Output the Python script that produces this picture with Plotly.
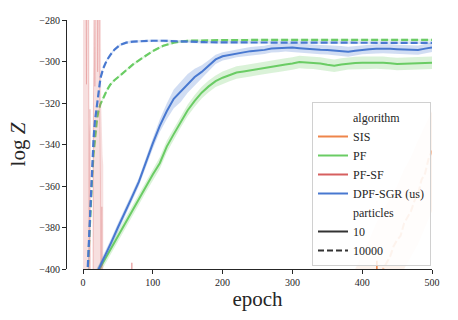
import plotly.graph_objects as go

# ---- data ----
epochs = list(range(0, 510, 10))

dpf_10 = [-416, -409, -401.5, -394.5, -387.5, -380, -373, -365.5, -358, -348.5,
          -339.5, -331, -324, -318, -314.5, -310.5, -307.5, -305, -302, -299,
          -297.5, -296.8, -296, -295.6, -295, -294.8, -294.4, -293.7, -293.6, -293.2,
          -293.3, -293.6, -293.9, -294.1, -294.3, -294.4, -294.6, -294.9, -295.3, -294.8,
          -294.3, -294.1, -293.9, -293.8, -293.9, -294.1, -294.2, -294.4, -294.5, -293.8,
          -293.2]
dpf_10_err = [2, 2, 2, 2, 2, 2, 2, 2, 2, 2.2,
              2.5, 3, 3.8, 4.5, 5, 4.5, 4, 3.2, 2.6, 2.2,
              2, 2, 2, 2, 2, 2, 2, 2, 2, 2,
              2.2, 2.2, 2.2, 2.2, 2.2, 2.2, 2.3, 2.4, 2.4, 2.3,
              2.2, 2.2, 2.2, 2.2, 2.2, 2.2, 2.2, 2.2, 2.2, 2.2,
              2.2]

pf_10 = [-414, -408, -402.5, -396.5, -390.5, -384.5, -378.5, -372.5, -366.5, -360.5,
         -354.5, -349, -341, -335, -329, -323.5, -319, -315, -312, -309.5,
         -307.8, -306.5, -305.3, -304.8, -304.2, -303.6, -303, -302.6, -302, -301.4,
         -301, -300.2, -300.5, -300.6, -301, -301.6, -302, -301.4, -300.9, -300.7,
         -300.6, -300.6, -300.5, -300.6, -300.9, -301.2, -301.1, -300.9, -300.9, -300.7,
         -300.6]
pf_10_err = [2.5] * 10 + [2.8] * 10 + [3] * 31

dash_epochs = [0, 4, 7, 9, 11, 13, 15, 17, 20, 22, 25, 29, 34, 39, 45, 53, 62, 72, 85, 100,
               115, 130, 150, 175, 200, 250, 300, 350, 400, 450, 500]
dpf_10000 = [-640, -460, -398, -381, -366, -350, -338, -329, -320, -314.5, -308, -303.3, -299.5,
             -296.9, -294.3, -292, -290.9, -290.4, -290.1, -290.0, -290.0, -290.2, -290.5,
             -290.7, -290.8, -290.9, -291.0, -291.0, -291.0, -291.0, -291.0]
pf_10000 = [-640, -460, -400, -384, -370, -356, -345, -337, -328, -324, -320.5, -317.7, -314,
            -311.2, -309, -306.8, -304, -301.3, -298.3, -295, -292.4, -290.9, -290, -289.8,
            -289.7, -289.6, -289.6, -289.6, -289.6, -289.6, -289.6]

pfsf_epochs = list(range(0, 31))
pfsf_10 = [-230, -210, -260, -200, -240, -311, -205, -250, -215, -700, -323, -780, -800, -800,
           -398, -323, -220, -312, -205, -240, -210, -305, -230, -215, -330, -357, -700, -370,
           -800, -800, -800]
pfsf_hi = [-150] * 9 + [-330, -335, -800, -800, -800, -330] + [-150] * 11 + [-320, -340, -345, -350, -800]
pfsf_lo = [-850] * 31
pfsf_late_epochs = [66, 68, 70, 72, 74]
pfsf_late = [-900, -900, -397, -900, -900]

sis_epochs = [370, 380, 390, 400, 410, 420, 430, 440, 450, 460, 470, 480, 490, 500]
sis_hi = [-420, -408, -400, -393, -386, -378, -372, -366, -360, -352, -346, -338, -331, -324]
sis_lo = [-480, -470, -460, -450, -440, -430, -422, -412, -405, -400, -394, -388, -380, -372]
sis_d_epochs = [420, 425, 430, 435, 440, 445, 450, 455, 460, 465, 470, 475, 480, 485, 490, 495, 500]
sis_10000 = [-412, -405, -400, -397, -394, -389, -386, -384, -378, -375, -372, -367, -364,
             -357, -354, -347, -343]
sis_s_epochs = [417, 419, 421, 423, 425]
sis_10 = [-520, -480, -396, -480, -520]

algorithms = ["SIS", "PF", "PF-SF", "DPF-SGR (us)"]
particles = ["10", "10000"]
colors = {"SIS": "#ee854a", "PF": "#6acc64", "PF-SF": "#d65f5f", "DPF-SGR (us)": "#4878d0"}

SERIF = "Liberation Serif, DejaVu Serif, serif"


def rgba(hexcol, a):
    h = hexcol.lstrip("#")
    return "rgba(%d,%d,%d,%s)" % (int(h[0:2], 16), int(h[2:4], 16), int(h[4:6], 16), a)


fig = go.Figure()


def band(x, lo, hi, color):
    fig.add_trace(go.Scatter(x=list(x) + list(x)[::-1], y=list(hi) + list(lo)[::-1],
                             fill="toself", fillcolor=color, mode="lines",
                             line=dict(width=0), hoverinfo="skip", showlegend=False))


def line(x, y, color, dash="solid", width=2):
    fig.add_trace(go.Scatter(x=x, y=y, mode="lines", line=dict(color=color, width=width, dash=dash),
                             hoverinfo="skip", showlegend=False))


# SIS
band(sis_epochs, sis_lo, sis_hi, rgba(colors["SIS"], 0.1))
line(sis_d_epochs, sis_10000, rgba(colors["SIS"], 0.45), dash="7px,3px")
line(sis_s_epochs, sis_10, colors["SIS"], width=1.5)

# PF
band(epochs, [m - e for m, e in zip(pf_10, pf_10_err)], [m + e for m, e in zip(pf_10, pf_10_err)],
     rgba(colors["PF"], 0.25))
line(epochs, pf_10, colors["PF"])
band(dash_epochs, [v - 0.6 for v in pf_10000], [v + 0.6 for v in pf_10000], rgba(colors["PF"], 0.2))
line(dash_epochs, pf_10000, colors["PF"], dash="7px,3px", width=2.2)

# PF-SF
band(pfsf_epochs, pfsf_lo, pfsf_hi, rgba(colors["PF-SF"], 0.2))
line(pfsf_epochs, pfsf_10, rgba(colors["PF-SF"], 0.25), width=1)
line(pfsf_late_epochs, pfsf_late, rgba(colors["PF-SF"], 0.45), width=1)

# DPF-SGR
band(epochs, [m - e for m, e in zip(dpf_10, dpf_10_err)], [m + e for m, e in zip(dpf_10, dpf_10_err)],
     rgba(colors["DPF-SGR (us)"], 0.25))
line(epochs, dpf_10, colors["DPF-SGR (us)"])
band(dash_epochs, [v - 0.6 for v in dpf_10000], [v + 0.6 for v in dpf_10000],
     rgba(colors["DPF-SGR (us)"], 0.2))
line(dash_epochs, dpf_10000, colors["DPF-SGR (us)"], dash="7px,3px", width=2.2)


# legend entries
def entry(name, color, dash="solid"):
    fig.add_trace(go.Scatter(x=[None], y=[None], mode="lines", name=name,
                             line=dict(color=color, width=2, dash=dash)))


entry("algorithm", "rgba(0,0,0,0)")
for a in algorithms:
    entry(a, colors[a])
entry("particles", "rgba(0,0,0,0)")
entry(particles[0], "#333333")
entry(particles[1], "#333333", dash="6px,3px")

axis_style = dict(showgrid=False, zeroline=False, showline=True, linecolor="#262626", linewidth=1.2,
                  ticks="outside", ticklen=4, tickwidth=1.2, tickcolor="#262626", automargin=False,
                  tickfont=dict(family=SERIF, size=10, color="#262626"))

fig.update_layout(
    template="none",
    width=458, height=320,
    margin=dict(l=66, r=26, t=20, b=51),
    plot_bgcolor="white", paper_bgcolor="white",
    font=dict(family=SERIF, color="#262626"),
    xaxis=dict(domain=[17 / 366, 1], range=[0, 500], tickvals=[0, 100, 200, 300, 400, 500],
               title=dict(text="epoch", font=dict(family=SERIF, size=21), standoff=4), **axis_style),
    yaxis=dict(anchor="free", position=0, range=[-400, -280],
               tickvals=[-400, -380, -360, -340, -320, -300, -280],
               title=dict(text="log <i>Z</i>", font=dict(family=SERIF, size=21), standoff=6),
               **axis_style),
    legend=dict(x=(312 - 66) / 366, y=3 / 249, xanchor="left", yanchor="bottom",
                bgcolor="rgba(255,255,255,0.8)", bordercolor="#d0d0d0", borderwidth=1,
                font=dict(family=SERIF, size=12, color="#262626"), itemwidth=30,
                traceorder="normal", tracegroupgap=0),
    showlegend=True,
)

fig.write_html("out.html", config={"displayModeBar": False},
               post_script="document.body.style.margin = '0';")
